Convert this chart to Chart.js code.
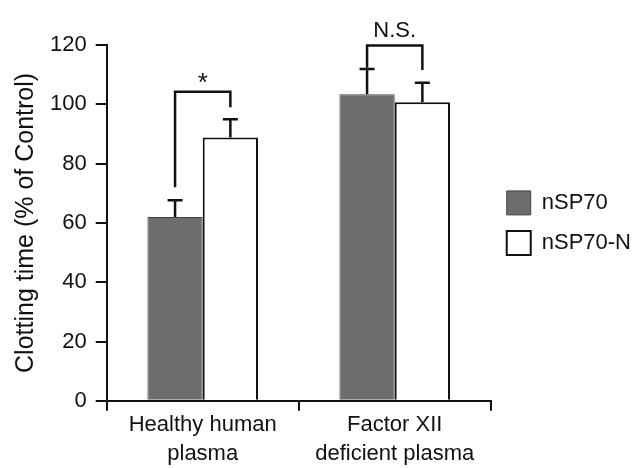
<!DOCTYPE html>
<html>
<head>
<meta charset="utf-8">
<script src="https://cdn.jsdelivr.net/npm/chart.js@4.4.1/dist/chart.umd.min.js"></script>
<style>
  body { margin: 0; background: #fff; }
  #wrap { width: 635px; height: 468px; }
</style>
</head>
<body>
<div id="wrap"><canvas id="GraficoCoagulacao"></canvas></div>
<script>
// categorias e valores
var categorias = [["Healthy human", "plasma"], ["Factor XII", "deficient plasma"]];
var nsp70 = [62, 103.4];
var nsp70Erro = [5.6, 8.5];
var nsp70N = [88.8, 100.7];
var nsp70NErro = [6.2, 6.6];
// colchetes de significancia (topo, base esquerda, base direita)
var colcheteTopo = [104.2, 119.8];
var colcheteBaseEsq = [72, 112.3];
var colcheteBaseDir = [99, 111.6];
var rotulosSig = ["*", "N.S."];
var ticksY = [0, 20, 40, 60, 80, 100, 120];

var fonte = "'Liberation Sans', Arial, Helvetica, sans-serif";

var pluginErros = {
    id: 'barrasErro',
    afterDatasetsDraw: function (chart) {
        var ctx = chart.ctx;
        var y = chart.scales.y;
        var erros = [nsp70Erro, nsp70NErro];
        ctx.save();
        ctx.strokeStyle = '#111';
        ctx.lineWidth = 2.5;
        // barras de erro (so para cima)
        chart.data.datasets.forEach(function (ds, i) {
            var meta = chart.getDatasetMeta(i);
            meta.data.forEach(function (bar, j) {
                var topo = y.getPixelForValue(ds.data[j] + erros[i][j]);
                ctx.beginPath();
                ctx.moveTo(bar.x, bar.y);
                ctx.lineTo(bar.x, topo);
                ctx.moveTo(bar.x - 7.5, topo);
                ctx.lineTo(bar.x + 7.5, topo);
                ctx.stroke();
            });
        });
        // colchetes
        var m0 = chart.getDatasetMeta(0);
        var m1 = chart.getDatasetMeta(1);
        ctx.fillStyle = '#111';
        ctx.textAlign = 'center';
        ctx.textBaseline = 'alphabetic';
        for (var k = 0; k < categorias.length; k++) {
            var xa = m0.data[k].x;
            var xb = m1.data[k].x;
            var yt = y.getPixelForValue(colcheteTopo[k]);
            ctx.beginPath();
            ctx.moveTo(xa, y.getPixelForValue(colcheteBaseEsq[k]));
            ctx.lineTo(xa, yt);
            ctx.lineTo(xb, yt);
            ctx.lineTo(xb, y.getPixelForValue(colcheteBaseDir[k]));
            ctx.stroke();
            ctx.font = (rotulosSig[k] === "*" ? "26px " : "22px ") + fonte;
            var med = ctx.measureText(rotulosSig[k]);
            var base = yt - 9 - med.actualBoundingBoxDescent;
            ctx.fillText(rotulosSig[k], (xa + xb) / 2, base);
        }
        ctx.restore();
    }
};

var ctx = document.getElementById('GraficoCoagulacao').getContext('2d');

var grafico = new Chart(ctx, {
    type: 'bar',
    data: {
        labels: categorias,
        datasets: [{
            label: "nSP70",
            data: nsp70,
            backgroundColor: '#6d6d6d',
            borderColor: '#444',
            borderWidth: 1,
            categoryPercentage: 0.576,
            barPercentage: 1
        }, {
            label: "nSP70-N",
            data: nsp70N,
            backgroundColor: '#ffffff',
            borderColor: '#111',
            borderWidth: 2,
            categoryPercentage: 0.576,
            barPercentage: 1
        }]
    },
    options: {
        responsive: true,
        maintainAspectRatio: false,
        animation: false,
        layout: { padding: { left: 1, right: -6, top: 45, bottom: 0 } },
        plugins: {
            tooltip: { enabled: false },
            legend: {
                position: 'right',
                fullSize: false,
                labels: {
                    boxWidth: 24,
                    boxHeight: 24,
                    padding: 16,
                    color: '#111',
                    font: { family: fonte, size: 22 }
                }
            }
        },
        scales: {
            x: {
                grid: {
                    display: true,
                    drawOnChartArea: false,
                    tickLength: 10,
                    color: '#111',
                    lineWidth: 2
                },
                border: { display: true, color: '#111', width: 2 },
                ticks: {
                    color: '#111',
                    padding: 0,
                    font: { family: fonte, size: 22, lineHeight: 1.3 }
                }
            },
            y: {
                min: 0,
                max: 120,
                afterBuildTicks: function (axis) {
                    axis.ticks = ticksY.map(function (v) { return { value: v }; });
                },
                grid: {
                    display: true,
                    drawOnChartArea: false,
                    tickLength: 11,
                    color: '#111',
                    lineWidth: 2
                },
                border: { display: true, color: '#111', width: 2 },
                ticks: {
                    color: '#111',
                    padding: 9,
                    font: { family: fonte, size: 22 }
                },
                title: {
                    display: true,
                    text: "Clotting time (% of Control)",
                    color: '#111',
                    padding: { top: 10, bottom: 0 },
                    font: { family: fonte, size: 25 }
                }
            }
        }
    },
    plugins: [pluginErros]
});
</script>
</body>
</html>
